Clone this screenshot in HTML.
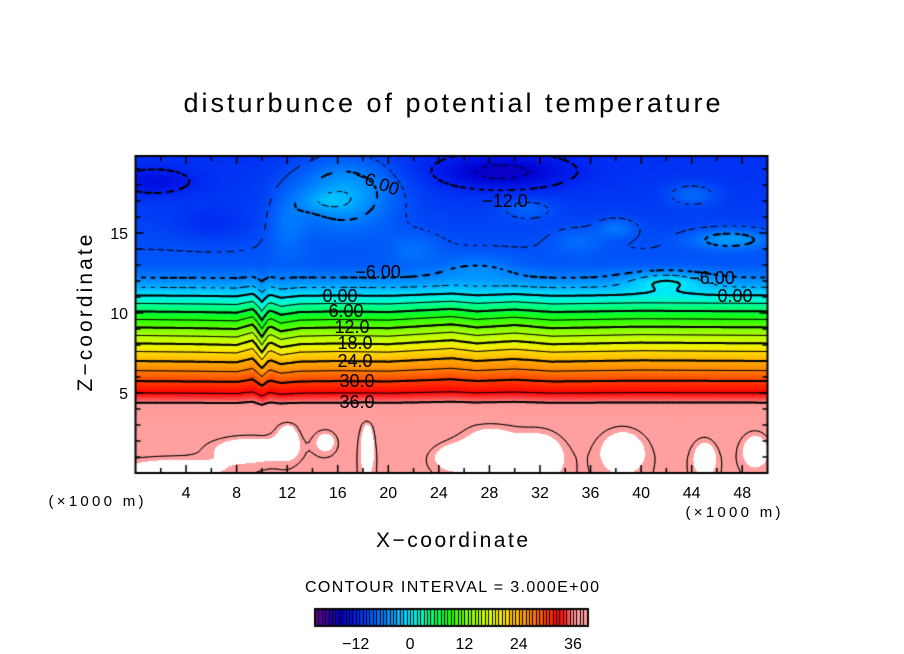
<!DOCTYPE html>
<html><head><meta charset="utf-8"><style>
body{margin:0;background:#fff;}
#wrap{position:relative;width:904px;height:654px;overflow:hidden;font-family:"Liberation Sans",sans-serif;}
canvas{position:absolute;left:0;top:0;}
svg{position:absolute;left:0;top:0;}
</style></head><body>
<div id="wrap">
<canvas id="cv" width="904" height="654"></canvas>
<svg id="sv" width="904" height="654"></svg>
</div>
<script>
// ---- data ----
const profileZ = [0,1,3,4,4.4,5,5.75,6.4,7,7.6,8.1,8.6,9.1,9.6,10.1,10.6,11.1,11.6,12.2,13,15,17,20];
const profileT = [38.9,38.8,38.5,37.8,36,33,30,27,24,21,18,15,12,9,6,3,0,-3,-6,-8.5,-9.5,-10.5,-11];
const dispX = [0,5,8,9.3,10,10.6,11.5,13,16,20,25,27,30,33,40,50];
const dispZ = [0,0.05,0.1,-0.2,0.6,-0.1,0.25,0.05,0,0.05,-0.2,0,-0.15,0.05,-0.05,0];
// blobs: centre x, centre z, half-width x, half-width z, amplitude
const blobX = [16.5,15,1.5,29,27,42,47,38,31,44,9,12,15,18.3,3,28,32,38.5,45,49,25,22,12,35,6];
const blobZ = [17.5,17.0,18.2,18.8,12.8,12.0,14.6,15.3,16.5,17.4,1.5,2.2,2.0,1.8,0.3,1.6,1.2,1.5,1.0,1.5,1.0,14.0,15.5,14.5,15.5];
const blobW = [4,2,3,5,3,3,3,1.5,2,2,3,1,1,0.6,4,2.5,2,2,1,1.2,1.5,2,1.5,2,3];
const blobH = [2.2,0.6,0.8,1,0.8,0.6,0.6,0.6,0.6,0.7,0.8,1.2,0.8,1.8,0.6,1.6,1.6,1.5,1.2,1.2,0.8,1,2,0.8,1];
const blobA = [7,2.5,-3,-5,2.5,5,5,3,2.5,3,1.3,1.2,1.0,1.3,1.0,1.3,1.2,1.2,1.1,1.1,1.0,2,2.5,2,-1.5];
const cbTicks = [-12,0,12,24,36];
const xTicks = [4,8,12,16,20,24,28,32,36,40,44,48];
const yTicks = [5,10,15];
const levels = [];
for(let v=-15; v<=39; v+=3) levels.push(v);
const cmapV = [-21,-18,-15,-12,-9,-6,-3,0,3,6,9,12,15,18,21,24,27,30,33,35,36,39.3];
const cmapC = ['#7000a0','#3000a8','#0000d0','#0020f0','#0050f8','#0080ff','#00b0ff','#00e8ff','#00ffb0','#00ff50','#20ff00','#70ff00','#b0ff00','#e0ff00','#ffe000','#ffb000','#ff8000','#ff4000','#ff0000','#ff5050','#ff9898','#ffa0a0'];
// ---- axes ----
const X0=135.5,X1=767.5,Y0=473,Y1=156;
const sx=x=>X0+(x-0)*(X1-X0)/50;
const sz=z=>Y0-(z-0)*16;
const zTop=(Y0-Y1)/16;
function interp(xs,ys,v){if(v<=xs[0])return ys[0];for(let i=1;i<xs.length;i++){if(v<=xs[i]){const t=(v-xs[i-1])/(xs[i]-xs[i-1]);return ys[i-1]+t*(ys[i]-ys[i-1]);}}return ys[ys.length-1];}
function field(x,z){
  let w=Math.exp(-Math.pow((z-8.5)/3.5,2));
  let zz=z+interp(dispX,dispZ,x)*w;
  let v=interp(profileZ,profileT,zz);
  for(let i=0;i<blobX.length;i++){const dx=(x-blobX[i])/blobW[i],dz=(z-blobZ[i])/blobH[i];v+=blobA[i]*Math.exp(-(dx*dx+dz*dz));}
  return v;
}
function hex(c){return [parseInt(c.substr(1,2),16),parseInt(c.substr(3,2),16),parseInt(c.substr(5,2),16)];}
const cmapRGB=cmapC.map(hex);
function color(v){
  if(v>39.3) return [255,255,255];
  if(v<=cmapV[0]) return cmapRGB[0];
  for(let i=1;i<cmapV.length;i++){if(v<=cmapV[i]){const t=(v-cmapV[i-1])/(cmapV[i]-cmapV[i-1]);const a=cmapRGB[i-1],b=cmapRGB[i];return [a[0]+t*(b[0]-a[0]),a[1]+t*(b[1]-a[1]),a[2]+t*(b[2]-a[2])];}}
  return cmapRGB[cmapRGB.length-1];
}
const cv=document.getElementById('cv');const ctx=cv.getContext('2d');
const W=Math.round(X1-X0),H=Math.round(Y0-Y1);
const img=ctx.createImageData(W,H);
for(let j=0;j<H;j++){const z=(Y0-(Y1+j+0.5))/16;for(let i=0;i<W;i++){const x=(i+0.5)*50/W;const c=color(field(x,z));const k=(j*W+i)*4;img.data[k]=c[0];img.data[k+1]=c[1];img.data[k+2]=c[2];img.data[k+3]=255;}}
ctx.putImageData(img,Math.round(X0),Math.round(Y1));
// contours (marching squares)
const NX=200,NZ=160;const g=[];
for(let j=0;j<=NZ;j++){const row=[];const z=j*zTop/NZ;for(let i=0;i<=NX;i++){row.push(field(i*50/NX,z));}g.push(row);}
ctx.save();ctx.beginPath();ctx.rect(X0,Y1,X1-X0,Y0-Y1);ctx.clip();
ctx.strokeStyle='#000';ctx.lineCap='round';
levels.forEach(L=>{
  const major=(L%6===0);ctx.lineWidth=major?2:1;
  for(let j=0;j<NZ;j++)for(let i=0;i<NX;i++){
    const v=[g[j][i],g[j][i+1],g[j+1][i+1],g[j+1][i]];
    const p=[[i,j],[i+1,j],[i+1,j+1],[i,j+1]];
    const pts=[];
    for(let e=0;e<4;e++){const a=v[e],b=v[(e+1)%4];if((a<L)!==(b<L)){const t=(L-a)/(b-a);const pa=p[e],pb=p[(e+1)%4];pts.push([pa[0]+t*(pb[0]-pa[0]),pa[1]+t*(pb[1]-pa[1])]);}}
    for(let k=0;k+1<pts.length;k+=2){
      const ax=sx(pts[k][0]*50/NX),ay=sz(pts[k][1]*zTop/NZ),bx=sx(pts[k+1][0]*50/NX),by=sz(pts[k+1][1]*zTop/NZ);
      if(L<0&&Math.floor((ax+ay)/5)%2===1)continue;
      ctx.beginPath();ctx.moveTo(ax,ay);ctx.lineTo(bx,by);ctx.stroke();
    }
  }
});
ctx.restore();
// colorbar
const cbX0=315,cbX1=588,cbY0=609,cbY1=626;
const cbMin=-21,cbMax=39.3;
for(let i=0;i<cbX1-cbX0;i++){const v=cbMin+(i+0.5)*(cbMax-cbMin)/(cbX1-cbX0);const c=color(Math.min(v,39.2));ctx.fillStyle='rgb('+c.map(Math.round).join(',')+')';ctx.fillRect(cbX0+i,cbY0,1,cbY1-cbY0);}
ctx.fillStyle='#000';
for(let v=cbMin;v<cbMax;v+=0.75){const px=cbX0+(v-cbMin)*(cbX1-cbX0)/(cbMax-cbMin);ctx.fillRect(Math.round(px),cbY0,1,cbY1-cbY0);}
ctx.lineWidth=2;ctx.strokeRect(cbX0,cbY0,cbX1-cbX0,cbY1-cbY0);
// frame + ticks
ctx.lineWidth=2;ctx.strokeRect(X0,Y1,X1-X0,Y0-Y1);
ctx.lineWidth=1.5;
for(let x=2;x<50;x+=2){const px=sx(x);const l=(x%4===0)?8:5;ctx.beginPath();ctx.moveTo(px,Y0);ctx.lineTo(px,Y0-l);ctx.moveTo(px,Y1);ctx.lineTo(px,Y1+l);ctx.stroke();}
for(let z=1;z<zTop;z+=1){const py=sz(z);const l=(z%5===0)?8:5;ctx.beginPath();ctx.moveTo(X0,py);ctx.lineTo(X0+l,py);ctx.moveTo(X1,py);ctx.lineTo(X1-l,py);ctx.stroke();}
// ---- svg text ----
const sv=document.getElementById('sv');const NS='http://www.w3.org/2000/svg';
function txt(x,y,s,size,anchor,name,rot,len){const t=document.createElementNS(NS,'text');t.setAttribute('x',x);t.setAttribute('y',y);t.setAttribute('font-size',size);t.setAttribute('text-anchor',anchor||'middle');t.setAttribute('font-family','Liberation Sans, sans-serif');if(rot)t.setAttribute('transform','rotate('+rot+' '+x+' '+y+')');if(len){t.setAttribute('textLength',len);t.setAttribute('lengthAdjust','spacing');}t.textContent=s;


sv.appendChild(t);return t;}
txt(452,112,'disturbunce of potential temperature',27,'middle','chart-title',0,537);
txt(452,547,'X\u2212coordinate',21,'middle','x-axis-title',0,152);
txt(92,313,'Z\u2212coordinate',21,'middle','y-axis-title',-90,157);
txt(96,506,'(\u00d71000 m)',15,'middle','x-unit-label-left',0,95);
txt(733,517,'(\u00d71000 m)',15,'middle','x-unit-label-right',0,95);
txt(452,592,'CONTOUR INTERVAL = 3.000E+00',16,'middle','contour-interval-label',0,294);
xTicks.forEach(x=>txt(sx(x),498,String(x),16,'middle','x-tick-label'));
yTicks.forEach(z=>txt(128,sz(z)+6,String(z),16,'end','y-tick-label'));
cbTicks.forEach(v=>txt(cbX0+(v-cbMin)*(cbX1-cbX0)/(cbMax-cbMin),649,v<0?'\u2212'+(-v):String(v),16,'middle','colorbar-tick-label'));
const labX=[340,346,352,355,355,357,357,378,505,712,735,375];
const labY=[302,317,333,349,367,387,408,278,207,284,302,188];
const labS=['0.00','6.00','12.0','18.0','24.0','30.0','36.0','\u22126.00','\u221212.0','\u22126.00','0.00','\u22126.00'];
labS.forEach((s,i)=>{txt(labX[i],labY[i],s,18,'middle','contour-label',i===11?20:0);});
</script>
</body></html>
